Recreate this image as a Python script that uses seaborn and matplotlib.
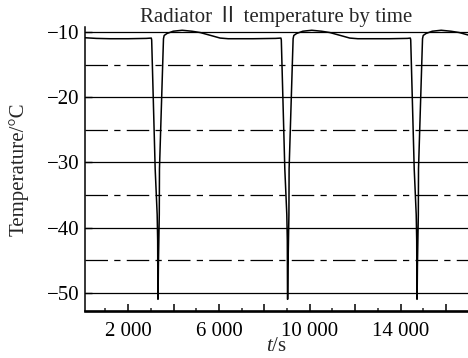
import matplotlib
matplotlib.use("Agg")
import matplotlib.pyplot as plt
import matplotlib.ticker as mticker
import seaborn as sns
import pandas as pd

# ---- data ----
time_s = [
    100, 600, 1200, 2000, 2800,
    3020, 3037, 3191, 3279, 3301, 3310, 3319, 3332, 3372, 3380, 3539, 3557, 3587,
    3710, 3984, 4380, 4810, 5172, 5745, 6053, 6410, 7500, 8500,
    8730, 8747, 8901, 8989, 9011, 9020, 9029, 9042, 9082, 9090, 9249, 9267, 9297,
    9420, 9694, 10090, 10520, 10882, 11455, 11763, 12120, 13500, 14300,
    14430, 14447, 14601, 14689, 14711, 14720, 14729, 14742, 14782, 14790, 14949, 14967, 14997,
    15120, 15394, 15790, 16220, 16582, 17155,
]
temperature = [
    -10.85, -10.95, -11.0, -11.0, -10.95,
    -10.9, -11.2, -31, -38, -42, -51, -51, -46, -38, -31, -13, -11, -10.5,
    -10.2, -9.85, -9.7, -9.85, -10.05, -10.6, -10.9, -11.0, -11.0, -10.95,
    -10.9, -11.2, -31, -38, -42, -51, -51, -46, -38, -31, -13, -11, -10.5,
    -10.2, -9.85, -9.7, -9.85, -10.05, -10.6, -10.9, -11.0, -11.0, -10.95,
    -10.9, -11.2, -31, -38, -42, -51, -51, -46, -38, -31, -13, -11, -10.5,
    -10.2, -9.85, -9.7, -9.85, -10.05, -10.6,
]
x_major = [2000, 4000, 6000, 8000, 10000, 12000, 14000, 16000]
x_labeled = [2000, 6000, 10000, 14000]
y_major = [-10, -20, -30, -40, -50]
y_minor = [-15, -25, -35, -45]

title = "Radiator Ⅱ temperature by time"
xlabel = "$t$/s"
ylabel = "Temperature/°C"

# ---- style ----
sns.set_style("ticks")
plt.rcParams["font.family"] = ["Liberation Serif", "Noto Sans CJK SC", "DejaVu Sans"]
plt.rcParams["mathtext.fontset"] = "custom"
plt.rcParams["mathtext.it"] = "Liberation Serif:italic"
plt.rcParams["mathtext.rm"] = "Liberation Serif"

df = pd.DataFrame({"t": time_s, "T": temperature})

fig = plt.figure(figsize=(4.68, 3.58), dpi=100)
ax = fig.add_axes([85 / 468, 1 - 311 / 358, (468 - 85) / 468, (311 - 27) / 358])

sns.lineplot(data=df, x="t", y="T", ax=ax, color="black", lw=1.1,
             estimator=None, sort=False, zorder=3)

ax.set_xlim(100, 16970)
ax.set_ylim(-52.8, -9.2)

ax.xaxis.set_major_locator(mticker.FixedLocator(x_major))
ax.xaxis.set_minor_locator(mticker.MultipleLocator(1000))
ax.xaxis.set_major_formatter(mticker.FuncFormatter(
    lambda v, p: (f"{int(v):,}".replace(",", " ") if int(round(v)) in x_labeled else "")))
ax.yaxis.set_major_locator(mticker.FixedLocator(y_major))
ax.yaxis.set_minor_locator(mticker.FixedLocator(y_minor))

ax.tick_params(axis="x", which="major", direction="in", length=5, width=1.1,
               labelsize=15, pad=8, colors="black")
ax.tick_params(axis="x", which="minor", direction="in", length=2.5, width=1.1)
ax.tick_params(axis="y", which="major", direction="in", length=5, width=1.0,
               labelsize=15, pad=4, colors="black")
ax.tick_params(axis="y", which="minor", direction="in", length=0)

ax.yaxis.grid(True, which="major", color="black", lw=0.9, linestyle="-")
ax.yaxis.grid(True, which="minor", color="black", lw=0.9,
              linestyle=(0, (18, 5, 5, 5)))
ax.xaxis.grid(False)

for s in ("top", "right"):
    ax.spines[s].set_visible(False)
ax.spines["left"].set_linewidth(1.1)
ax.spines["bottom"].set_linewidth(1.9)
ax.spines["left"].set_color("black")
ax.spines["bottom"].set_color("black")

ax.set_title(title, fontsize=15, pad=0)
ax.set_xlabel(xlabel, fontsize=15, labelpad=-3)
ax.set_ylabel(ylabel, fontsize=15, labelpad=13)

fig.savefig("out.png", dpi=100)
